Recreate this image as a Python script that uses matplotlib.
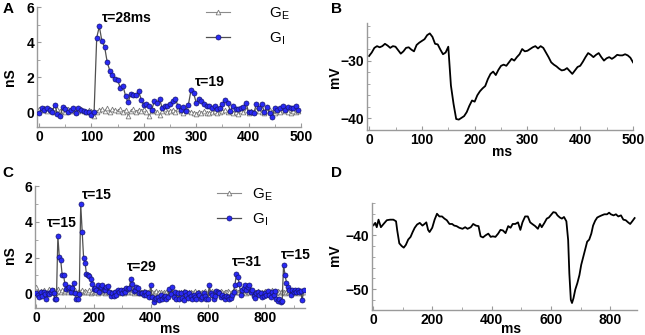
import numpy as np
import matplotlib
matplotlib.use("Agg")
import matplotlib.pyplot as plt
from matplotlib.ticker import MultipleLocator

plt.rcParams['font.family'] = ['Liberation Sans', 'DejaVu Sans']
plt.rcParams['mathtext.fontset'] = 'custom'
plt.rcParams['mathtext.rm'] = 'Liberation Sans'

# ---------------- data ----------------
dt_cond = 5  # ms between conductance samples

a_gi = [0.0, 0.26, 0.17, 0.26, 0.17, 0.02, 0.45, -0.1, -0.2, 0.32,
        0.23, 0.02, 0.17, 0.25, -0.02, 0.25, 0.17, 0.08, 0.02, 0.06,
        -0.13, 0.02, 4.26, 4.9, 4.04, 3.75, 2.87, 2.38, 2.15, 1.9,
        1.85, 1.4, 1.53, 0.96, 0.58, 1.06, 1.02, 1.02, 1.2, 0.74,
        0.42, 0.5, 0.4, 0.17, 0.64, 0.55, 0.77, 0.26, 0.36, 0.4,
        0.5, 0.64, 0.77, 0.4, 0.17, 0.32, 0.08, 0.45, 1.26, 1.1,
        0.55, 0.77, 0.64, 0.5, 0.36, 0.4, 0.26, 0.4, 0.21, 0.25,
        0.5, 0.7, 0.55, 0.08, 0.36, 0.21, 0.21, 0.26, 0.32, 0.55,
        0.02, 0.02, -0.02, 0.5, 0.26, 0.5, 0.02, 0.32, -0.02, -0.25,
        0.26, 0.17, 0.26, 0.4, 0.17, 0.32, 0.26, 0.26, 0.4, 0.13]

a_ge = [0.2, 0.15, 0.25, 0.1, 0.2, 0.15, 0.05, 0.2, 0.1, 0.15,
        0.05, 0.2, 0.1, 0.15, 0.05, 0.1, 0.2, 0.1, 0.05, 0.15,
        0.1, -0.17, 0.05, 0.15, 0.2, 0.1, 0.25, 0.05, 0.2, 0.15,
        0.1, 0.2, 0.05, 0.15, -0.2, 0.1, 0.2, 0.05, 0.15, 0.1,
        0.2, 0.05, -0.2, 0.1, 0.15, 0.05, -0.15, 0.1, 0.2, 0.05,
        0.1, 0.15, 0.05, 0.2, 0.1, 0.0, 0.15, 0.1, 0.05, 0.0,
        -0.1, 0.05, -0.05, 0.1, 0.0, -0.05, 0.05, 0.1, 0.0, 0.05,
        0.1, 0.15, 0.05, 0.1, 0.0, 0.05, -0.1, 0.1, 0.05, 0.15,
        0.0, 0.1, 0.05, 0.15, 0.1, 0.05, 0.0, 0.1, 0.15, 0.05,
        0.0, 0.1, 0.05, 0.15, 0.1, 0.05, 0.0, 0.1, 0.05, 0.1]

b_t = [0, 5, 10, 15, 20, 25, 30, 35, 40, 45, 50, 55, 60, 65, 70, 75, 80, 85, 90, 95,
       100, 105, 110, 115, 120, 125, 130, 135, 140, 145, 150, 155, 160, 165, 170, 175,
       180, 185, 190, 195, 200, 205, 210, 215, 220, 225, 230, 235, 240, 245, 250, 255,
       260, 265, 270, 275, 280, 285, 290, 295, 300, 305, 310, 315, 320, 325, 330, 335,
       340, 345, 350, 355, 360, 365, 370, 375, 380, 385, 390, 395, 400, 405, 410, 415,
       420, 425, 430, 435, 440, 445, 450, 455, 460, 465, 470, 475, 480, 485, 490, 495, 500]
b_vm = [-29.2, -28.6, -27.8, -27.5, -27.7, -27.5, -27.1, -27.4, -27.8, -27.5,
        -27.6, -28.2, -28.8, -28.4, -27.8, -27.7, -28.1, -28.4, -27.3, -26.9,
        -26.6, -26.3, -25.6, -25.3, -25.9, -27.1, -27.2, -28.1, -28.9, -28.6,
        -27.6, -34.3, -37.5, -40.1, -40.2, -39.9, -39.6, -38.9, -37.8, -36.9,
        -37.1, -36.0, -35.3, -34.8, -34.4, -33.2, -32.3, -31.9, -32.5, -31.6,
        -30.9, -30.7, -30.9, -30.3, -29.7, -30.0, -29.4, -28.9, -28.0, -28.4,
        -28.3, -28.0, -27.7, -27.5, -27.9, -27.5, -27.8, -28.6, -29.4, -30.3,
        -30.7, -31.0, -31.4, -31.7, -31.6, -31.3, -31.8, -32.3, -31.7, -31.1,
        -30.9, -30.2, -29.4, -28.7, -29.0, -29.4, -29.0, -28.7, -29.4, -30.0,
        -29.6, -29.4, -29.7, -29.4, -29.0, -29.1, -29.1, -28.9, -29.1, -29.5, -30.3]

c_gi = [0.0, -0.1, -0.2, 0.05, -0.15, 0.1, -0.05, -0.34, 0.0, -0.05,
        0.1, 0.17, 0.0, -0.3, -0.34, 3.2, 2.04, 1.85, 1.05, 1.0,
        0.5, 0.26, 0.3, 0.36, 0.05, 0.3, 0.6, 0.0, -0.3, -0.34,
        -0.05, 4.98, 3.45, 2.0, 1.72, 1.1, 1.0, 0.95, 0.79, 0.54,
        0.26, 0.3, 0.17, 0.45, 0.07, 0.36, 0.45, 0.2, 0.17, 0.35,
        0.4, 0.07, -0.15, 0.0, -0.15, 0.07, -0.08, 0.17, 0.07, 0.17,
        0.04, 0.2, 0.1, 0.3, 0.25, 0.3, 0.79, 0.54, 0.11, 0.2,
        0.36, 0.3, 0.0, 0.04, 0.0, -0.1, 0.07, -0.1, 0.0, -0.2,
        0.49, -0.2, -0.5, -0.34, -0.25, -0.2, -0.4, -0.1, -0.34, -0.2,
        -0.15, -0.3, -0.2, 0.26, -0.05, 0.35, -0.2, 0.07, -0.3, 0.0,
        -0.3, 0.0, -0.25, -0.4, 0.07, -0.1, -0.26, 0.0, -0.15, -0.34,
        -0.1, -0.2, -0.34, 0.0, -0.1, -0.34, -0.2, 0.0, -0.15, -0.3,
        -0.3, 0.45, 0.0, -0.1, -0.34, -0.15, 0.11, 0.05, 0.0, -0.2,
        -0.1, -0.2, -0.34, -0.15, -0.2, -0.34, -0.26, -0.1, 0.1, 0.49,
        1.1, 0.92, 0.54, -0.1, 0.17, 0.3, 0.45, 0.2, 0.36, 0.45,
        0.1, 0.17, -0.15, -0.26, 0.0, 0.07, -0.1, 0.0, -0.2, -0.15,
        0.04, -0.1, 0.11, -0.1, -0.2, 0.05, -0.1, 0.11, -0.34, -0.45,
        -0.3, -0.49, -0.45, 1.57, 1.05, 0.6, 0.36, 0.17, -0.1, 0.17,
        0.07, 0.17, 0.07, 0.17, 0.07, 0.12, -0.4, 0.17]

c_ge = [0.35, 0.1, 0.0, 0.15, 0.05, 0.2, 0.1, 0.0, 0.15, 0.25,
        0.05, 0.1, 0.2, 0.0, 0.1, 0.25, 0.15, 0.05, 0.2, 0.1,
        0.15, 0.25, 0.1, 0.2, 0.05, 0.15, 0.1, 0.2, 0.0, 0.1,
        0.15, 0.05, 0.2, 0.1, 0.15, 0.05, 0.1, 0.2, 0.0, 0.1,
        0.05, 0.15, 0.1, 0.0, 0.2, 0.1, 0.05, 0.15, 0.0, 0.1,
        0.05, 0.15, 0.1, 0.0, 0.05, 0.1, 0.15, 0.0, 0.1, 0.05,
        0.1, 0.0, 0.15, 0.05, 0.1, 0.2, 0.05, 0.1, 0.0, 0.15,
        0.1, 0.05, 0.0, 0.1, 0.05, 0.15, 0.0, 0.05, 0.1, 0.0,
        0.05, 0.1, 0.0, 0.05, 0.15, 0.0, 0.1, 0.05, -0.05, 0.1,
        0.0, 0.05, 0.1, 0.0, 0.15, 0.05, 0.0, 0.1, 0.05, 0.0,
        0.1, 0.05, 0.0, 0.15, 0.05, 0.1, 0.0, 0.05, 0.1, 0.0,
        0.05, 0.15, 0.0, 0.1, 0.05, 0.0, 0.1, 0.05, 0.15, 0.0,
        0.05, 0.1, 0.0, 0.15, 0.05, 0.1, 0.0, 0.05, 0.1, 0.15,
        0.05, 0.0, 0.1, 0.05, 0.15, 0.1, 0.0, 0.05, 0.2, 0.1,
        0.15, 0.05, 0.1, 0.2, 0.05, 0.1, 0.15, 0.0, 0.1, 0.05,
        0.15, 0.1, 0.0, 0.05, 0.1, 0.15, 0.05, 0.0, 0.1, 0.05,
        0.15, 0.1, 0.0, 0.05, 0.1, 0.2, 0.05, 0.1, 0.0, 0.15,
        0.05, 0.1, 0.15, 0.05, 0.0, 0.1, 0.05, 0.15, 0.1, 0.05,
        0.0, 0.1, 0.05, 0.15, 0.0, 0.1, 0.05, 0.1]

d_t = [0, 8, 13, 19, 27, 36, 47, 58, 69, 78, 82, 89, 97, 104, 111, 119, 127, 134,
       141, 149, 158, 167, 174, 180, 186, 191, 200, 208, 216, 224, 233, 241, 249,
       258, 267, 274, 282, 291, 302, 311, 319, 330, 338, 347, 356, 363, 371, 380,
       389, 397, 404, 413, 422, 430, 438, 447, 456, 464, 471, 480, 489, 497, 504,
       513, 522, 530, 537, 547, 556, 563, 569, 578, 586, 593, 602, 608, 616, 622,
       630, 637, 644, 652, 658, 662, 667, 671, 676, 682, 689, 696, 702, 709, 716,
       722, 729, 736, 742, 749, 756, 763, 771, 780, 789, 796, 802, 811, 819, 827,
       836, 844, 852, 860, 867, 874, 882]
d_vm = [-38.2, -37.7, -38.5, -37.1, -38.5, -37.9, -37.2, -37.1, -37.1, -37.4,
        -39.1, -41.5, -42.0, -42.3, -41.8, -40.8, -40.3, -39.4, -38.6, -38.0,
        -37.7, -38.2, -37.9, -37.6, -39.0, -39.4, -38.6, -37.1, -36.0, -36.5,
        -36.5, -36.9, -37.2, -37.9, -37.9, -38.2, -38.3, -38.6, -38.8, -38.5,
        -38.8, -38.5, -37.9, -38.2, -38.3, -40.2, -40.4, -40.0, -39.7, -40.3,
        -40.2, -40.3, -39.7, -39.0, -39.1, -39.6, -38.3, -38.6, -37.9, -37.9,
        -37.6, -39.0, -37.6, -36.5, -36.5, -37.6, -37.9, -38.3, -38.8, -37.9,
        -38.5, -37.7, -36.9, -36.7, -36.1, -35.7, -35.8, -36.3, -36.7, -36.9,
        -36.6, -37.4, -40.9, -47.1, -52.0, -52.6, -51.7, -50.1, -48.9, -47.4,
        -45.5, -44.0, -42.5, -41.2, -40.8, -39.7, -38.2, -37.3, -36.7, -36.5,
        -36.3, -36.1, -36.1, -35.8, -36.1, -36.3, -36.1, -36.5, -36.3, -37.1,
        -37.2, -37.6, -37.9, -37.4, -36.8]

legend_labels = [r'G$_{\mathrm{E}}$', r'G$_{\mathrm{I}}$']
a_notes = [("τ=28ms", 120, 5.4), ("τ=19", 298, 1.75)]
c_notes = [("τ=15", 35, 3.93), ("τ=15", 160, 5.5), ("τ=29", 317, 1.46),
           ("τ=31", 683, 1.74), ("τ=15", 857, 2.13)]

# ---------------- figure ----------------
W, H = 645, 335
fig = plt.figure(figsize=(W / 100, H / 100), dpi=100)

def box(l, r, t, b):
    return [l / W, 1 - b / H, (r - l) / W, (b - t) / H]

SP = '#9a9a9a'
FS = 10

def style(ax):
    for s in ['top', 'right']:
        ax.spines[s].set_visible(False)
    for s in ['left', 'bottom']:
        ax.spines[s].set_color(SP)
        ax.spines[s].set_linewidth(1.0)
    ax.tick_params(which='both', direction='in', color=SP, labelsize=FS, pad=2)
    ax.tick_params(which='major', length=3)
    ax.tick_params(which='minor', length=2)
    for lab in ax.get_xticklabels() + ax.get_yticklabels():
        lab.set_fontweight('bold')

gi_kw = dict(color='#505050', lw=0.9, marker='o', ms=3.6, mfc='#2a2af5',
             mec='#14146e', mew=0.5, zorder=3)
ge_kw = dict(color='#8c8c8c', lw=0.8, marker='^', ms=3.4, mfc='white',
             mec='#7a7a7a', mew=0.6, zorder=2)

def cond_panel(rect, gi, ge, xlim, xmaj, xmin, notes, leg_anchor, leg_pad):
    ax = fig.add_axes(rect)
    tg = np.arange(len(gi)) * dt_cond
    te = np.arange(len(ge)) * dt_cond
    le, = ax.plot(te, ge, **ge_kw)
    li, = ax.plot(tg, gi, **gi_kw)
    ax.set_xlim(*xlim)
    ax.set_ylim(-0.82, 6)
    ax.xaxis.set_major_locator(MultipleLocator(xmaj))
    ax.xaxis.set_minor_locator(MultipleLocator(xmin))
    ax.yaxis.set_major_locator(MultipleLocator(2))
    ax.yaxis.set_minor_locator(MultipleLocator(1))
    style(ax)
    for txt, x, y in notes:
        ax.text(x, y, txt, fontsize=FS, fontweight='bold', ha='left', va='center')
    ax.legend([le, li], legend_labels, loc='upper left', frameon=False,
              bbox_to_anchor=leg_anchor, bbox_transform=fig.transFigure,
              handlelength=1.6, handletextpad=leg_pad, labelspacing=0.55,
              prop={'size': 11}, borderaxespad=0, borderpad=0)
    return ax

def vm_panel(rect, t, v, xlim, ylim, xmaj, xmin, ymaj):
    ax = fig.add_axes(rect)
    ax.plot(t, v, color='black', lw=1.3)
    ax.set_xlim(*xlim)
    ax.set_ylim(*ylim)
    ax.xaxis.set_major_locator(MultipleLocator(xmaj))
    ax.xaxis.set_minor_locator(MultipleLocator(xmin))
    ax.yaxis.set_major_locator(MultipleLocator(ymaj))
    ax.yaxis.set_minor_locator(MultipleLocator(2))
    style(ax)
    return ax

axA = cond_panel(box(37, 301, 7, 127), a_gi, a_ge, (-4, 500), 100, 50, a_notes,
                 (206 / W, 1 - 5 / H), 2.5)
axB = vm_panel(box(367, 633, 23, 130), b_t, b_vm, (-4, 500), (-42, -23.5), 100, 50, 10)
axC = cond_panel(box(35, 305, 186, 308), c_gi, c_ge, (-5, 940), 200, 100, c_notes,
                 (217 / W, 1 - 186 / H), 0.7)
axD = vm_panel(box(372, 637, 203, 310), d_t, d_vm, (-3, 890), (-53.9, -34), 200, 100, 10)

def ftext(x, y, s, **kw):
    fig.text(x / W, 1 - y / H, s, ha='center', va='center', fontweight='bold', **kw)

ftext(172, 150, 'ms', fontsize=FS)
ftext(10, 77, 'nS', fontsize=FS, rotation=90)
ftext(502, 152, 'ms', fontsize=FS)
ftext(335, 77, 'mV', fontsize=FS, rotation=90)
ftext(170, 329, 'ms', fontsize=FS)
ftext(10, 255, 'nS', fontsize=FS, rotation=90)
ftext(511, 329, 'ms', fontsize=FS)
ftext(335, 255, 'mV', fontsize=FS, rotation=90)

for lab, x, y in [('A', 8, 9), ('B', 337, 9), ('C', 8, 173), ('D', 337, 173)]:
    ftext(x, y, lab, fontsize=11)

fig.savefig('out.png', dpi=100)
